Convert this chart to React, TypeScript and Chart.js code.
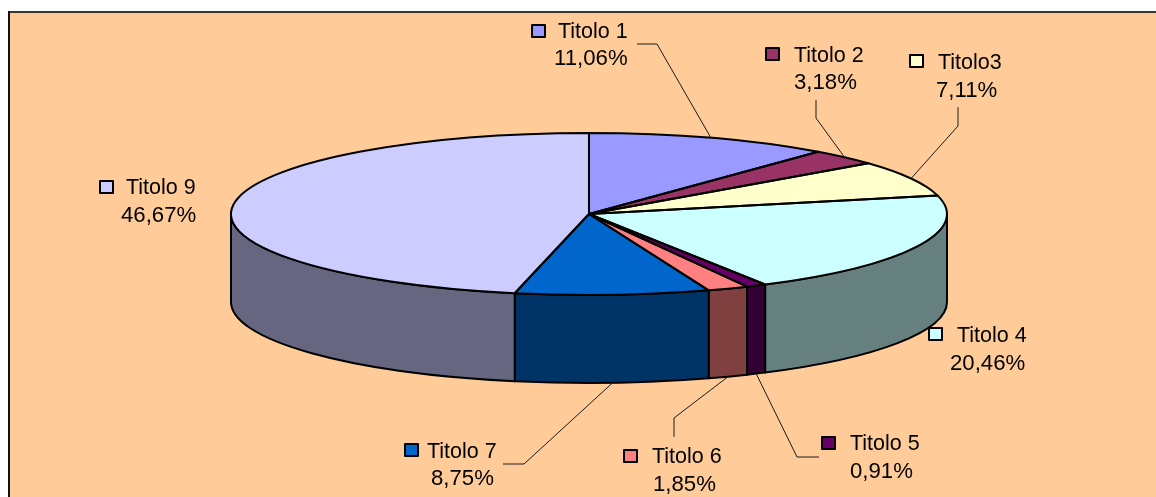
import React, { useEffect, useRef } from "react";
import { Chart, registerables } from "chart.js";

Chart.register(...registerables);

const categories = ["Titolo 1", "Titolo 2", "Titolo3", "Titolo 4", "Titolo 5", "Titolo 6", "Titolo 7", "Titolo 9"];
const percentages = [11.06, 3.18, 7.11, 20.46, 0.91, 1.85, 8.75, 46.67];
const topColors = ["#9999FF", "#993366", "#FFFFCC", "#CCFFFF", "#660066", "#FF8080", "#0066CC", "#CCCCFF"];
const wallColors = ["#666680", "#4D1A33", "#808066", "#668080", "#330033", "#804040", "#003366", "#666680"];

// Layout of the pie (canvas pixels)
const WIDTH = 1156;
const HEIGHT = 497;
const CX = 589;
const CY = 214;
const RX = 358;
const RY = 81;
const DEPTH = 88;
const BASE_R = 200; // radius chart.js lays the round pie out with, before it is squashed

// Label layout: key box, name position, value position, leader polyline start + elbow
type Lbl = { box: [number, number]; name: [number, number]; val: [number, number]; leader?: [number, number, number, number]; onWall?: boolean };
const labelLayout: Lbl[] = [
  { box: [532, 25], name: [558, 38], val: [554, 65], leader: [637, 44, 657, 44] },
  { box: [766, 48], name: [794, 62], val: [794, 89], leader: [816, 100, 816, 118] },
  { box: [910, 55], name: [938, 69], val: [936, 97], leader: [958, 107, 958, 126] },
  { box: [929, 328], name: [957, 342], val: [950, 370] },
  { box: [822, 437], name: [850, 450], val: [850, 478], leader: [819, 457, 797, 457], onWall: true },
  { box: [624, 450], name: [652, 463], val: [653, 491], leader: [674, 437, 674, 418], onWall: true },
  { box: [405, 444], name: [427, 458], val: [431, 485], leader: [503, 464, 524, 464], onWall: true },
  { box: [100, 181], name: [126, 194], val: [121, 222] },
];

const NAME_FONT = '21.5px "Liberation Sans", Arial, sans-serif';
const VALUE_FONT = '22.2px "Liberation Sans", Arial, sans-serif';
const fmt = (v: number) => v.toFixed(2).replace(".", ",") + "%";

const pie3d = {
  id: "pie3d",
  beforeDraw(chart: any) {
    const c = chart.ctx as CanvasRenderingContext2D;
    c.save();
    c.fillStyle = "#FFFFFF";
    c.fillRect(0, 0, WIDTH, HEIGHT);
    c.fillStyle = "#FFCC99";
    c.fillRect(8, 11, WIDTH, HEIGHT);
    c.fillStyle = "#3A342E";
    c.fillRect(8, 11, WIDTH, 2);
    c.fillStyle = "#111111";
    c.fillRect(8, 11, 2, HEIGHT);
    c.restore();
  },
  beforeDatasetsDraw(chart: any) {
    const c = chart.ctx as CanvasRenderingContext2D;
    const arcs = chart.getDatasetMeta(0).data;
    // Side walls: the part of each slice's rim that faces the viewer
    c.save();
    arcs.forEach((arc: any, i: number) => {
      const { startAngle, endAngle } = arc.getProps(["startAngle", "endAngle"]);
      const from = Math.max(startAngle, 0);
      const to = Math.min(endAngle, Math.PI);
      if (to <= from) return;
      c.beginPath();
      c.ellipse(CX, CY, RX, RY, 0, from, to);
      c.ellipse(CX, CY + DEPTH, RX, RY, 0, to, from, true);
      c.closePath();
      c.fillStyle = wallColors[i];
      c.fill();
      c.lineWidth = 2;
      c.strokeStyle = "#000";
      c.lineJoin = "round";
      c.stroke();
    });
    c.restore();
    // Squash the round pie chart.js draws into the ellipse of the top face
    const a0 = arcs[0].getProps(["x", "y", "outerRadius"]);
    c.save();
    c.translate(CX, CY);
    c.scale(RX / a0.outerRadius, RY / a0.outerRadius);
    c.translate(-a0.x, -a0.y);
  },
  afterDatasetsDraw(chart: any) {
    const c = chart.ctx as CanvasRenderingContext2D;
    c.restore();
    const arcs = chart.getDatasetMeta(0).data;
    c.save();
    c.strokeStyle = "#000";
    c.lineWidth = 2;
    c.lineJoin = "round";
    arcs.forEach((arc: any) => {
      const { startAngle, endAngle } = arc.getProps(["startAngle", "endAngle"]);
      c.beginPath();
      c.moveTo(CX, CY);
      c.ellipse(CX, CY, RX, RY, 0, startAngle, endAngle);
      c.closePath();
      c.stroke();
    });
    // Leader lines end on the rim at each slice's middle angle
    c.strokeStyle = "#1A1A1A";
    c.lineWidth = 1;
    arcs.forEach((arc: any, i: number) => {
      const l = labelLayout[i];
      if (!l.leader) return;
      const { startAngle, endAngle } = arc.getProps(["startAngle", "endAngle"]);
      const mid = (startAngle + endAngle) / 2;
      const ex = CX + RX * Math.cos(mid);
      const ey = CY + RY * Math.sin(mid) + (l.onWall ? DEPTH : 0);
      c.beginPath();
      c.moveTo(l.leader[0], l.leader[1]);
      c.lineTo(l.leader[2], l.leader[3]);
      c.lineTo(ex, ey);
      c.stroke();
    });
    // Labels
    c.textAlign = "left";
    c.textBaseline = "alphabetic";
    categories.forEach((name, i) => {
      const l = labelLayout[i];
      c.fillStyle = topColors[i];
      c.fillRect(l.box[0], l.box[1], 13, 12);
      c.strokeStyle = "#000";
      c.lineWidth = 2;
      c.strokeRect(l.box[0], l.box[1], 13, 12);
      c.fillStyle = "#000";
      c.font = NAME_FONT;
      c.fillText(name, l.name[0], l.name[1]);
      c.font = VALUE_FONT;
      c.fillText(fmt(percentages[i]), l.val[0], l.val[1]);
    });
    c.restore();
  },
};

export default function App() {
  const ref = useRef<HTMLCanvasElement | null>(null);
  useEffect(() => {
    const chart = new Chart(ref.current as HTMLCanvasElement, {
      type: "pie",
      data: {
        labels: categories,
        datasets: [
          {
            data: percentages,
            backgroundColor: topColors,
            borderWidth: 0,
            hoverBorderWidth: 0,
            clip: false,
          } as any,
        ],
      },
      options: {
        responsive: false,
        animation: false,
        layout: {
          padding: {
            left: CX - BASE_R,
            right: WIDTH - CX - BASE_R,
            top: CY - BASE_R,
            bottom: HEIGHT - CY - BASE_R,
          },
        },
        plugins: { legend: { display: false }, tooltip: { enabled: false } },
      },
      plugins: [pie3d],
    });
    return () => chart.destroy();
  }, []);
  return (
    <div style={{ position: "fixed", left: 0, top: 0, width: WIDTH, height: HEIGHT, overflow: "hidden" }}>
      <canvas ref={ref} width={WIDTH} height={HEIGHT} style={{ display: "block" }} />
    </div>
  );
}
